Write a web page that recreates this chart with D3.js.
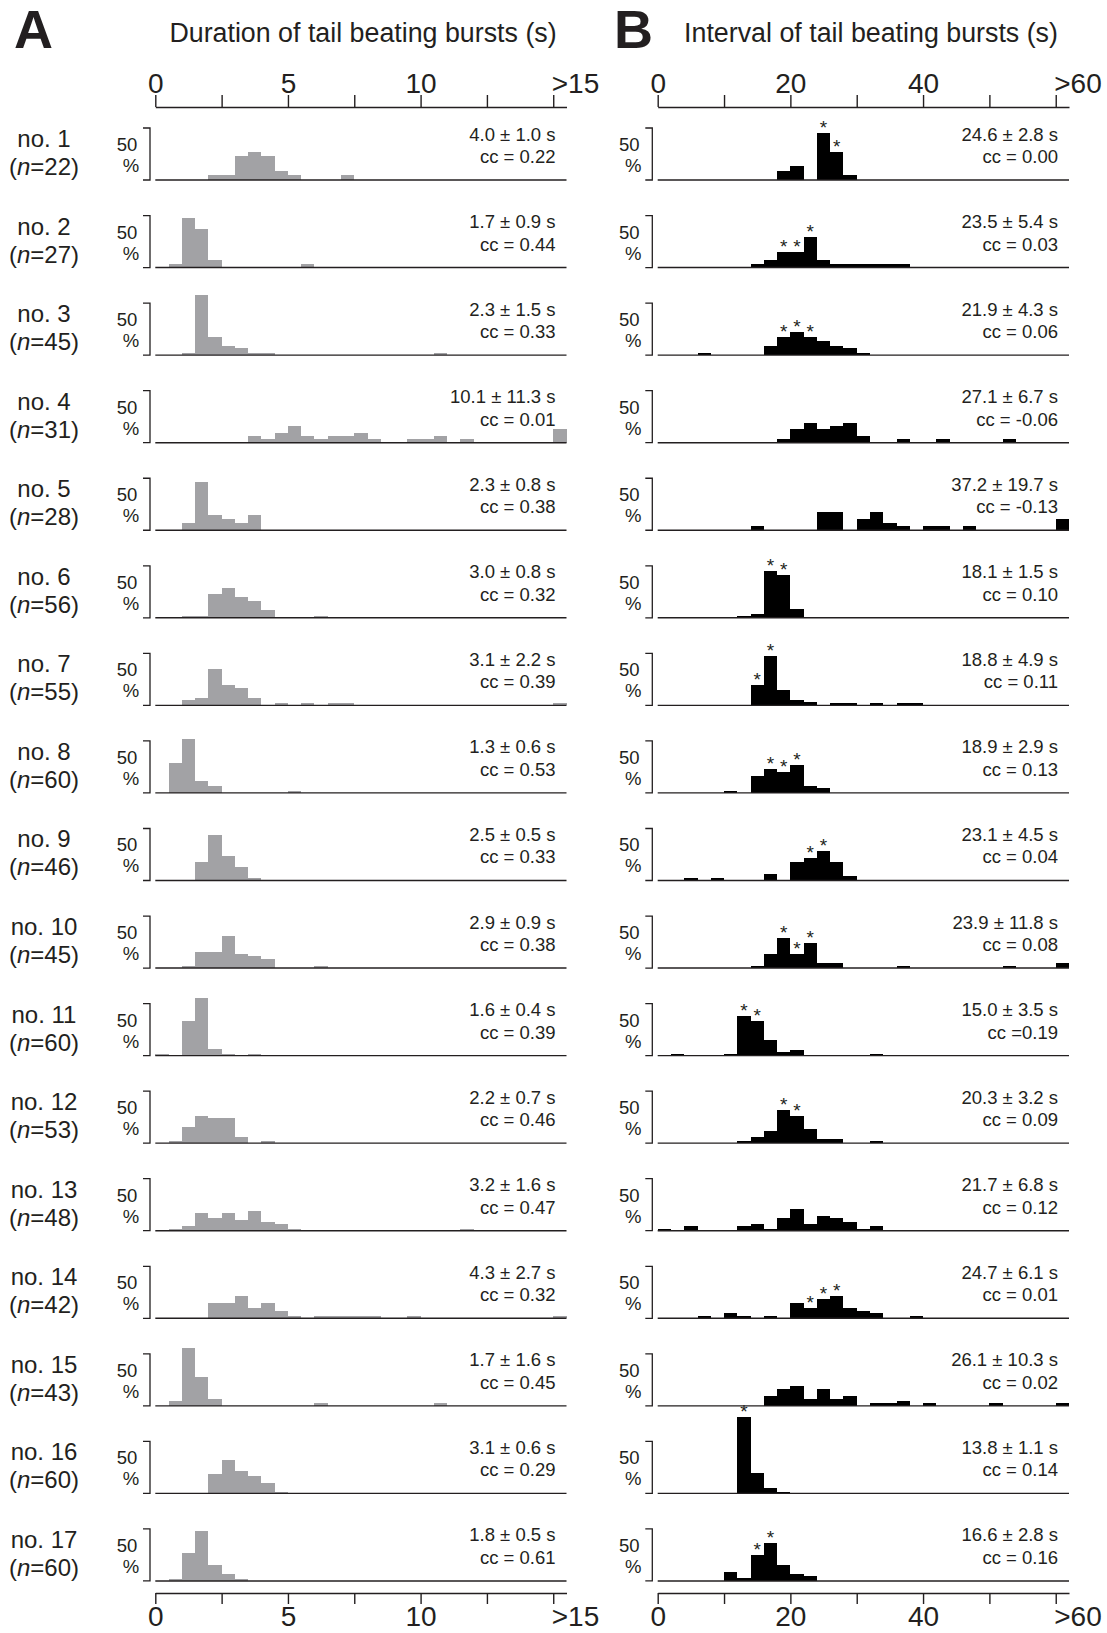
<!DOCTYPE html>
<html>
<head>
<meta charset="utf-8">
<script src="https://cdn.jsdelivr.net/npm/d3@7"></script>
<style>
  body { margin: 0; background: #fff; }
  svg text { font-family: "Liberation Sans", Arial, Helvetica, sans-serif; fill: #231f20; }
</style>
</head>
<body>
<svg id="chart"></svg>
<script>
// fish number and sample size
const fishN = [22, 27, 45, 31, 28, 56, 55, 60, 46, 45, 60, 53, 48, 42, 43, 60, 60];

// mean ± sd and correlation coefficient printed in each row
const durationStats = [
  ["4.0 ± 1.0 s", "cc = 0.22"], ["1.7 ± 0.9 s", "cc = 0.44"], ["2.3 ± 1.5 s", "cc = 0.33"],
  ["10.1 ± 11.3 s", "cc = 0.01"], ["2.3 ± 0.8 s", "cc = 0.38"], ["3.0 ± 0.8 s", "cc = 0.32"],
  ["3.1 ± 2.2 s", "cc = 0.39"], ["1.3 ± 0.6 s", "cc = 0.53"], ["2.5 ± 0.5 s", "cc = 0.33"],
  ["2.9 ± 0.9 s", "cc = 0.38"], ["1.6 ± 0.4 s", "cc = 0.39"], ["2.2 ± 0.7 s", "cc = 0.46"],
  ["3.2 ± 1.6 s", "cc = 0.47"], ["4.3 ± 2.7 s", "cc = 0.32"], ["1.7 ± 1.6 s", "cc = 0.45"],
  ["3.1 ± 0.6 s", "cc = 0.29"], ["1.8 ± 0.5 s", "cc = 0.61"]
];
const intervalStats = [
  ["24.6 ± 2.8 s", "cc = 0.00"], ["23.5 ± 5.4 s", "cc = 0.03"], ["21.9 ± 4.3 s", "cc = 0.06"],
  ["27.1 ± 6.7 s", "cc = -0.06"], ["37.2 ± 19.7 s", "cc = -0.13"], ["18.1 ± 1.5 s", "cc = 0.10"],
  ["18.8 ± 4.9 s", "cc = 0.11"], ["18.9 ± 2.9 s", "cc = 0.13"], ["23.1 ± 4.5 s", "cc = 0.04"],
  ["23.9 ± 11.8 s", "cc = 0.08"], ["15.0 ± 3.5 s", "cc =0.19"], ["20.3 ± 3.2 s", "cc = 0.09"],
  ["21.7 ± 6.8 s", "cc = 0.12"], ["24.7 ± 6.1 s", "cc = 0.01"], ["26.1 ± 10.3 s", "cc = 0.02"],
  ["13.8 ± 1.1 s", "cc = 0.14"], ["16.6 ± 2.8 s", "cc = 0.16"]
];

// % of bursts per 0.5 s bin (index 30 = ">15"), missing trailing bins are 0
const durationPct = [
  [0,0,0,0,4.5, 4.5,22.7,27.3,22.7,9.1, 4.5,0,0,0,4.5],
  [0,3.7,48.1,37.0,7.4, 0,0,0,0,0, 0,3.7],
  [0,0,2.2,57.8,17.8, 8.9,6.7,2.2,2.2,0, 0,0,0,0,0, 0,0,0,0,0, 0,2.2],
  [0,0,0,0,0, 0,0,6.5,3.2,9.7, 16.1,6.5,3.2,6.5,6.5, 9.7,3.2,0,0,3.2, 3.2,6.5,0,3.2,0, 0,0,0,0,0, 12.9],
  [0,0,7.1,46.4,14.3, 10.7,7.1,14.3],
  [0,0,1.8,1.8,23.2, 28.6,19.6,16.1,7.1,0, 0,0,1.8],
  [0,0,5.5,7.3,34.5, 20.0,16.4,7.3,0,1.8, 0,1.8,0,1.8,1.8, 0,0,0,0,0, 0,0,0,0,0, 0,0,0,0,0, 1.8],
  [0,28.3,51.7,11.7,6.7, 0,0,0,0,0, 1.7],
  [0,0,0,17.4,43.5, 23.9,13.0,2.2],
  [0,0,2.2,15.6,15.6, 31.1,13.3,11.1,8.9,0, 0,0,2.2],
  [1.7,0,33.3,55.0,6.7, 1.7,0,1.7],
  [0,1.9,15.1,26.4,24.5, 24.5,5.7,0,1.9],
  [0,2.1,4.2,16.7,12.5, 16.7,10.4,18.8,8.3,6.3, 2.1,0,0,0,0, 0,0,0,0,0, 0,0,0,2.1],
  [0,0,0,0,14.3, 14.3,21.4,9.5,14.3,7.1, 2.4,0,2.4,2.4,2.4, 2.4,2.4,0,0,2.4, 0,0,0,0,0, 0,0,0,0,0, 2.4],
  [0,4.7,55.8,27.9,7.0, 0,0,0,0,0, 0,0,2.3,0,0, 0,0,0,0,0, 0,2.3],
  [0,0,0,0,18.3, 31.7,21.7,16.7,10.0,1.7],
  [0,1.7,26.7,48.3,15.0, 6.7,1.7]
];

// % of intervals per 2 s bin (index 30 = ">60")
const intervalPct = [
  [0,0,0,0,0, 0,0,0,0,9.1, 13.6,0,45.5,27.3,4.5],
  [0,0,0,0,0, 0,0,3.7,7.4,14.8, 14.8,29.6,7.4,3.7,3.7, 3.7,3.7,3.7,3.7],
  [0,0,0,2.2,0, 0,0,0,8.9,17.8, 22.2,17.8,13.3,8.9,6.7, 2.2],
  [0,0,0,0,0, 0,0,0,0,3.2, 12.9,19.4,12.9,16.1,19.4, 6.5,0,0,3.2,0, 0,3.2,0,0,0, 0,3.2],
  [0,0,0,0,0, 0,0,3.6,0,0, 0,0,17.9,17.9,0, 10.7,17.9,7.1,3.6,0, 3.6,3.6,0,3.6,0, 0,0,0,0,0, 10.7],
  [0,0,0,0,0, 0,1.8,3.6,44.6,41.1, 8.9],
  [0,0,0,0,0, 0,0,20.0,47.3,14.5, 5.5,3.6,0,1.8,1.8, 0,1.8,0,1.8,1.8],
  [0,0,0,0,0, 1.7,0,16.7,23.3,20.0, 26.7,6.7,5.0],
  [0,0,2.2,0,2.2, 0,0,0,6.5,0, 17.4,21.7,28.3,17.4,4.3],
  [0,0,0,0,0, 0,0,2.2,13.3,28.9, 13.3,24.4,4.4,4.4,0, 0,0,0,2.2,0, 0,0,0,0,0, 0,2.2,0,0,0, 4.4],
  [0,1.7,0,0,0, 1.7,38.3,33.3,15.0,3.3, 5.0,0,0,0,0, 0,1.7],
  [0,0,0,0,0, 0,1.9,5.7,11.3,32.1, 26.4,13.2,3.8,3.8,0, 0,1.9],
  [2.1,0,4.2,0,0, 0,4.2,6.3,2.1,12.5, 20.8,6.3,14.6,12.5,8.3, 2.1,4.2],
  [0,0,0,2.4,0, 4.8,2.4,0,2.4,0, 14.3,9.5,19.0,21.4,9.5, 7.1,4.8,0,0,2.4],
  [0,0,0,0,0, 0,0,0,9.3,16.3, 18.6,7.0,16.3,7.0,9.3, 0,2.3,2.3,4.7,0, 2.3,0,0,0,0, 2.3,0,0,0,0, 2.3],
  [0,0,0,0,0, 0,73.3,20.0,5.0,1.7],
  [0,0,0,0,0, 8.3,3.3,25.0,36.7,15.0, 6.7,5.0]
];

// bins marked with an asterisk in panel B
const intervalStars = [
  [12,13], [9,10,11], [9,10,11], [], [], [8,9], [7,8], [8,9,10], [11,12],
  [9,10,11], [6,7], [9,10], [], [11,12,13], [], [6], [7,8]
];

const durationTicks = [0, 2.5, 5, 7.5, 10, 12.5, 15];
const durationTickLabels = ["0", "", "5", "", "10", "", ">15"];
const intervalTicks = [0, 10, 20, 30, 40, 50, 60];
const intervalTickLabels = ["0", "", "20", "", "40", "", ">60"];

const W = 1107, H = 1633;
const firstBase = 180, rowStep = 87.56;
const topAxisY = 107, bottomAxisY = 1593;
const ink = "#231f20";

const svg = d3.select("#chart").attr("width", W).attr("height", H)
  .attr("viewBox", [0, 0, W, H]);
svg.append("rect").attr("width", W).attr("height", H).attr("fill", "#fff");

// percentage -> bar height, 50 % scale bar = 52 px
const h = d3.scaleLinear().domain([0, 50]).range([0, 52]);
const rowBase = i => firstBase + i * rowStep;

const panels = [
  { letter: "A", letterX: 14, titleX: 363, title: "Duration of tail beating bursts (s)",
    pct: durationPct, stats: durationStats, stars: null,
    binW: 0.5, nBins: 31, x: d3.scaleLinear().domain([0, 15.5]).range([155.3, 566.5]),
    ticks: durationTicks, labels: durationTickLabels, fill: "#a2a2a5", bracketX: 150 },
  { letter: "B", letterX: 614, titleX: 871, title: "Interval of tail beating bursts (s)",
    pct: intervalPct, stats: intervalStats, stars: intervalStars,
    binW: 2, nBins: 31, x: d3.scaleLinear().domain([0, 62]).range([657.7, 1069]),
    ticks: intervalTicks, labels: intervalTickLabels, fill: "#000", bracketX: 652.3 }
];

// row labels
fishN.forEach((n, i) => {
  const b = rowBase(i);
  svg.append("text").attr("x", 44).attr("y", b - 33).attr("text-anchor", "middle")
    .attr("font-size", 24).text(`no. ${i + 1}`);
  const t = svg.append("text").attr("x", 44).attr("y", b - 5).attr("text-anchor", "middle")
    .attr("font-size", 24);
  t.append("tspan").text("(");
  t.append("tspan").attr("font-style", "italic").text("n");
  t.append("tspan").text(`=${n})`);
});

panels.forEach(p => {
  const x = p.x;
  const [r0, r1] = x.range();

  svg.append("text").attr("x", p.letterX).attr("y", 48)
    .attr("font-size", 54).attr("font-weight", "bold").text(p.letter);
  svg.append("text").attr("x", p.titleX).attr("y", 42).attr("text-anchor", "middle")
    .attr("font-size", 26.8).text(p.title);

  // top and bottom axes
  const styleAxis = g => {
    g.attr("font-family", null).attr("font-size", null);
    g.select(".domain").attr("stroke", ink).attr("stroke-width", 1.4);
    g.selectAll(".tick line").attr("stroke", ink).attr("stroke-width", 1.4);
    g.selectAll(".tick text").attr("font-size", 28).attr("fill", ink);
    g.selectAll(".tick text").filter((d, i) => i === p.ticks.length - 1)
      .attr("text-anchor", "start").attr("dx", -2);
  };
  svg.append("g").attr("transform", `translate(0,${topAxisY})`)
    .call(d3.axisTop(x).tickValues(p.ticks).tickFormat((d, i) => p.labels[i])
      .tickSize(12).tickSizeOuter(0).tickPadding(2))
    .call(styleAxis);
  svg.append("g").attr("transform", `translate(0,${bottomAxisY})`)
    .call(d3.axisBottom(x).tickValues(p.ticks).tickFormat((d, i) => p.labels[i])
      .tickSize(11).tickSizeOuter(0).tickPadding(2))
    .call(styleAxis);

  p.pct.forEach((row, i) => {
    const b = rowBase(i);
    const g = svg.append("g");
    const bins = d3.range(p.nBins).map(k => ({ k, v: row[k] || 0 })).filter(d => d.v > 0);

    g.selectAll("rect").data(bins).join("rect")
      .attr("x", d => x(d.k * p.binW))
      .attr("width", d => x((d.k + 1) * p.binW) - x(d.k * p.binW))
      .attr("y", d => b - h(d.v))
      .attr("height", d => h(d.v))
      .attr("fill", p.fill)
      .attr("shape-rendering", "crispEdges");

    g.append("line").attr("x1", r0).attr("x2", r1).attr("y1", b).attr("y2", b)
      .attr("stroke", ink).attr("stroke-width", 1.4);

    // 50 % scale bracket
    const bx = p.bracketX;
    g.append("path")
      .attr("d", `M${bx - 7},${b - h(50)}H${bx}V${b}H${bx - 7}`)
      .attr("fill", "none").attr("stroke", ink).attr("stroke-width", 1.3);
    g.append("text").attr("x", bx - 23).attr("y", b - 29).attr("text-anchor", "middle")
      .attr("font-size", 18.5).text("50");
    g.append("text").attr("x", bx - 19).attr("y", b - 8).attr("text-anchor", "middle")
      .attr("font-size", 18.5).text("%");

    g.append("text").attr("x", r1 - 11).attr("y", b - 39.5).attr("text-anchor", "end")
      .attr("font-size", 18.5).text(p.stats[i][0]);
    g.append("text").attr("x", r1 - 11).attr("y", b - 17).attr("text-anchor", "end")
      .attr("font-size", 18.5).text(p.stats[i][1]);

    if (p.stars) {
      g.selectAll("text.star").data(p.stars[i]).join("text").attr("class", "star")
        .attr("x", k => x((k + 0.5) * p.binW))
        .attr("y", k => b - h(row[k] || 0) + 1)
        .attr("text-anchor", "middle").attr("font-size", 19).text("*");
    }
  });
});
</script>
</body>
</html>
